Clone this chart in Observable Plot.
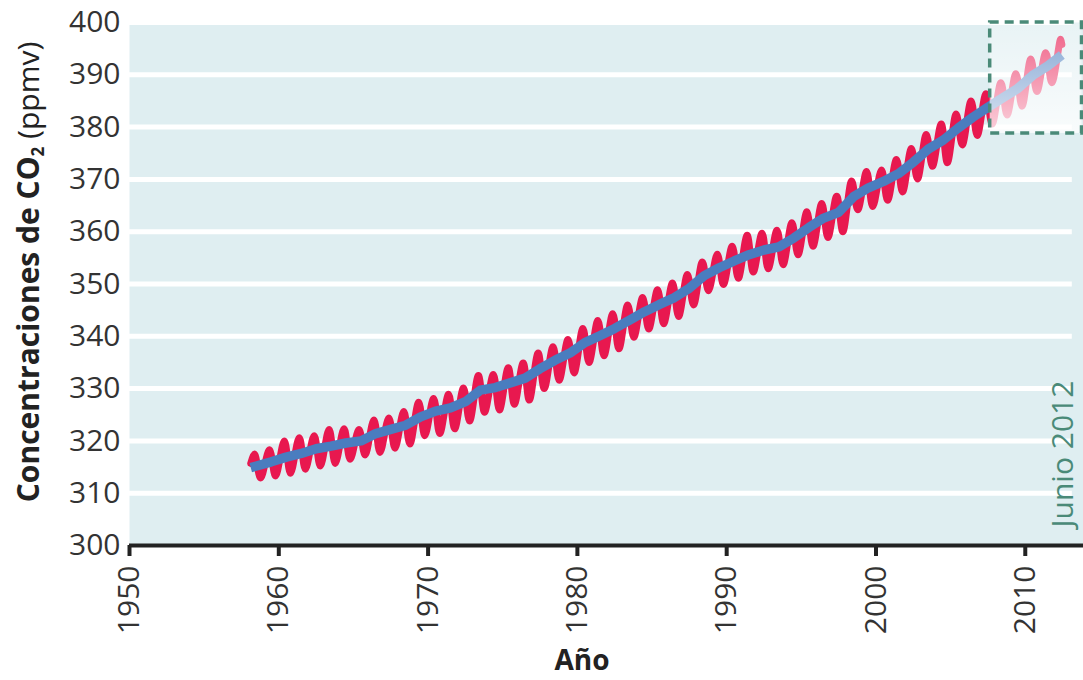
<!DOCTYPE html>
<html><head><meta charset="utf-8">
<script src="https://cdn.jsdelivr.net/npm/d3@7"></script>
<script src="https://cdn.jsdelivr.net/npm/@observablehq/plot@0.6"></script>
<style>body{margin:0;background:#fff;} svg{display:block;}</style>
</head><body><div id="chart"></div>
<script>
// Years of record (Mauna Loa)
const years = [1958,1959,1960,1961,1962,1963,1964,1965,1966,1967,1968,1969,1970,1971,1972,1973,1974,1975,1976,1977,1978,1979,1980,1981,1982,1983,1984,1985,1986,1987,1988,1989,1990,1991,1992,1993,1994,1995,1996,1997,1998,1999,2000,2001,2002,2003,2004,2005,2006,2007,2008,2009,2010,2011,2012];
// Seasonal maximum (May) each year, ppmv
const mayPeak = [317.5,318.3,320.0,320.6,321.0,322.2,322.3,322.2,324.0,324.4,325.6,327.4,328.1,328.9,330.1,332.5,332.7,334.0,334.9,336.8,338.0,339.4,341.5,343.0,344.3,346.0,347.4,348.9,350.2,351.8,354.2,355.7,357.2,359.3,359.7,360.3,361.7,363.8,365.4,366.8,369.7,371.5,371.8,373.8,375.9,378.6,380.6,382.5,385.0,386.4,388.5,390.2,393.0,394.2,396.8];
// Seasonal minimum (Sep/Oct) each year, ppmv (1958–2011)
const autumnLow = [312.9,313.3,313.8,314.6,315.2,315.7,316.5,317.3,317.8,318.6,319.4,321.0,321.4,322.3,323.8,325.5,325.9,327.0,327.8,330.0,331.6,333.0,335.0,336.3,337.6,339.8,341.4,342.4,343.8,346.0,348.7,349.9,351.1,352.3,352.9,353.7,355.6,357.2,358.9,360.0,364.2,364.8,366.0,367.6,370.1,372.5,373.2,376.6,378.4,380.6,382.3,384.0,386.8,388.5];
// Annual mean (trend), ppmv
const annualMean = [315.2,316.0,316.9,317.6,318.5,319.0,319.6,320.0,321.4,322.2,323.0,324.6,325.7,326.3,327.5,329.7,330.2,331.1,332.0,333.8,335.4,336.8,338.8,340.1,341.5,343.1,344.7,346.1,347.4,349.2,351.6,353.1,354.4,355.6,356.5,357.1,358.8,360.8,362.6,363.7,366.7,368.4,369.6,371.1,373.3,375.8,377.5,379.8,381.9,383.8,385.6,387.4,389.9,391.7,393.8];
// First record (March 1958) and last month shown (June 2012)
const firstRecord = {date: 1958.12, co2: 315.7, trend: 314.9};
const lastRecord = {date: 2012.45, co2: 395.8};

const yTicks = [300,310,320,330,340,350,360,370,380,390,400];
const xTicks = [1950,1960,1970,1980,1990,2000,2010];
const highlight = {x1: 2007.65, x2: 2013.8, y1: 378.8, y2: 400};
const annotation = ["Junio 2012"];

// Build tables
const monthly = [{x: firstRecord.date, y: firstRecord.co2}];
years.forEach((yr, i) => {
  monthly.push({x: yr + 0.37, y: mayPeak[i]});
  if (i < autumnLow.length) monthly.push({x: yr + 0.78, y: autumnLow[i]});
});
monthly.push({x: lastRecord.date, y: lastRecord.co2});

const trend = [{x: firstRecord.date, y: firstRecord.trend}];
years.forEach((yr, i) => trend.push({x: i === years.length - 1 ? lastRecord.date : yr + 0.5, y: annualMean[i]}));

const defs = () => {
  const g = d3.create("svg:defs");
  const lg = g.append("linearGradient").attr("id", "fade").attr("x1", 0).attr("x2", 0).attr("y1", 0).attr("y2", 1);
  lg.append("stop").attr("offset", "0%").attr("stop-color", "white").attr("stop-opacity", 0.3);
  lg.append("stop").attr("offset", "100%").attr("stop-color", "white").attr("stop-opacity", 0.8);
  return g.node();
};

const chart = Plot.plot({
  width: 1083, height: 680,
  marginLeft: 129, marginRight: 0, marginTop: 22, marginBottom: 135,
  style: {fontFamily: "'Open Sans', sans-serif", background: "white", overflow: "visible"},
  x: {domain: [1950, 2013.9]},
  y: {domain: [300, 400]},
  marks: [
    defs,
    Plot.frame({fill: "#dfeef1", stroke: null}),
    Plot.ruleY(yTicks.slice(1), {x1: 1950, x2: 2013.15, stroke: "white", strokeWidth: 5}),
    Plot.line(monthly, {x: "x", y: "y", stroke: "#e8184f", strokeWidth: 7, curve: "catmull-rom"}),
    Plot.line(trend, {x: "x", y: "y", stroke: "#4a7dbf", strokeWidth: 9.5, strokeLinecap: "butt"}),
    Plot.rect([highlight], {x1: "x1", x2: "x2", y1: "y1", y2: "y2", fill: "url(#fade)"}),
    Plot.rect([highlight], {x1: "x1", x2: "x2", y1: "y1", y2: "y2", fill: "none", stroke: "#4a8a78", strokeWidth: 3.5, strokeDasharray: "9,6"}),
    Plot.text(annotation, {frameAnchor: "bottom-right", rotate: -90, textAnchor: "start", dx: -11, dy: -18, fill: "#4a8a78", fontSize: 30}),
    Plot.axisY({ticks: yTicks, tickSize: 0, tickPadding: 9, fontSize: 30, color: "#333", label: null}),
    Plot.ruleY([300], {stroke: "#222", strokeWidth: 4}),
    Plot.axisX({ticks: xTicks, tickFormat: d => String(d), tickSize: 11, tickPadding: 9, strokeWidth: 4, stroke: "#222", tickRotate: -90, fontSize: 30, color: "#333", label: null})
  ]
});
document.getElementById("chart").appendChild(chart);

const svg = d3.select(chart);
const yt = svg.append("text")
  .attr("transform", "translate(39,272) rotate(-90)")
  .attr("text-anchor", "middle")
  .attr("fill", "#222")
  .style("font-size", "30px")
  .style("font-family", "'Open Sans', sans-serif");
yt.append("tspan").attr("font-weight", "bold").text("Concentraciones de CO");
yt.append("tspan").attr("font-weight", "bold").attr("font-size", "17px").attr("dy", "5").text("2");
yt.append("tspan").attr("font-weight", "normal").attr("dy", "-5").text(" (ppmv)");

svg.append("text")
  .attr("x", 582).attr("y", 670)
  .attr("text-anchor", "middle")
  .attr("fill", "#222")
  .attr("font-weight", "bold")
  .style("font-size", "28px")
  .style("font-family", "'Open Sans', sans-serif")
  .text("Año");
</script></body></html>
